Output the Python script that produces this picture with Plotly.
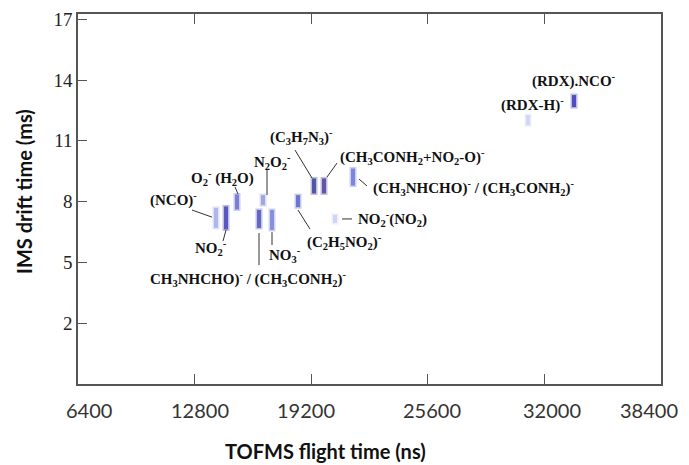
import plotly.graph_objects as go

# ---- data ----
x_ticks = [6400, 12800, 19200, 25600, 32000, 38400]
x_tick_labels = ["6400", "12800", "19200", "25600", "32000", "38400"]
y_ticks = [2, 5, 8, 11, 14, 17]

spot_x = [13975, 14524, 15128, 16555, 16335, 17049, 18476, 19354, 19903, 21495, 20507, 31100, 33625]
spot_y = [7.19, 7.19, 7.98, 8.07, 7.14, 7.09, 8.02, 8.77, 8.77, 9.21, 7.14, 12.02, 12.96]
spot_len = [20, 23, 15, 10, 18, 20, 12, 15, 15, 17, 8, 10, 12]
spot_color = ["#9aa4e6", "#2b2fb0", "#5560cc", "#8890dd", "#3a40b8", "#6a74d4", "#4a52c0",
              "#28288f", "#3a2a90", "#5a68d6", "#c4cbef", "#c8cdef", "#2020b0"]

label_text = [
    "(NCO)<sup>-</sup>",
    "O<sub>2</sub><sup>-</sup> (H<sub>2</sub>O)",
    "N<sub>2</sub>O<sub>2</sub><sup>-</sup>",
    "(C<sub>3</sub>H<sub>7</sub>N<sub>3</sub>)<sup>-</sup>",
    "(CH<sub>3</sub>CONH<sub>2</sub>+NO<sub>2</sub>-O)<sup>-</sup>",
    "(CH<sub>3</sub>NHCHO)<sup>-</sup> / (CH<sub>3</sub>CONH<sub>2</sub>)<sup>-</sup>",
    "NO<sub>2</sub><sup>-</sup>(NO<sub>2</sub>)",
    "(C<sub>2</sub>H<sub>5</sub>NO<sub>2</sub>)<sup>-</sup>",
    "NO<sub>2</sub><sup>-</sup>",
    "NO<sub>3</sub><sup>-</sup>",
    "CH<sub>3</sub>NHCHO)<sup>-</sup> / (CH<sub>3</sub>CONH<sub>2</sub>)<sup>-</sup>",
    "(RDX-H)<sup>-</sup>",
    "(RDX).NCO<sup>-</sup>",
]
label_x = [11615, 14304, 17049, 18640, 24733, 28136, 23635, 21001, 13700, 17762, 15731, 31320, 33625]
label_y = [8.12, 9.16, 9.95, 11.19, 10.20, 8.67, 7.14, 6.00, 5.70, 5.36, 4.17, 12.77, 14.0]

leader_x0 = [12657, 15018, 16774, 18311, 20617, 21824, 20891, 18476, 14524, 17049, 16335]
leader_y0 = [7.58, 8.72, 9.60, 10.54, 9.90, 9.11, 7.14, 7.58, 6.59, 6.49, 6.44]
leader_x1 = [13755, 15182, 16774, 19244, 20068, 22263, 21440, 19134, 14359, 17049, 16335]
leader_y1 = [7.23, 8.37, 8.32, 9.16, 9.21, 8.77, 7.14, 6.64, 6.05, 5.85, 4.86]

# horizontal offsets (px) of the printed tick labels relative to their ticks
x_label_shift = [11, 5, -5, 4, 8, -12]

fig = go.Figure()

# line-ns marker length is 1.4 x size
fig.add_trace(go.Scatter(
    x=spot_x, y=spot_y, mode="markers", hoverinfo="skip", showlegend=False,
    marker=dict(symbol="line-ns", size=[(s + 3) / 1.4 for s in spot_len],
                line=dict(width=7, color=spot_color), opacity=0.3),
))
fig.add_trace(go.Scatter(
    x=spot_x, y=spot_y, mode="markers", showlegend=False,
    marker=dict(symbol="line-ns", size=[s / 1.4 for s in spot_len],
                line=dict(width=4, color=spot_color)),
))

for t, lx, ly in zip(label_text, label_x, label_y):
    fig.add_annotation(x=lx, y=ly, xref="x", yref="y", text=t, showarrow=False,
                       font=dict(family="Liberation Serif", size=15, color="#111111", weight="bold"))

for x0, y0, x1, y1 in zip(leader_x0, leader_y0, leader_x1, leader_y1):
    fig.add_shape(type="line", xref="x", yref="y", x0=x0, y0=y0, x1=x1, y1=y1,
                  line=dict(color="#333333", width=1))

for v, t, s in zip(x_ticks, x_tick_labels, x_label_shift):
    fig.add_annotation(x=v, y=0, xref="x", yref="paper", text=t, showarrow=False,
                       xanchor="center", yanchor="top", xshift=s, yshift=-12,
                       font=dict(family="Lato", size=20, color="#333333"))

fig.add_annotation(xref="paper", yref="paper", x=0.4237, y=-0.181, text="TOFMS flight time (ns)",
                   showarrow=False, xanchor="center", yanchor="middle",
                   font=dict(family="Lato", size=20, color="#111111", weight="bold"))
fig.add_annotation(xref="paper", yref="paper", x=-0.0926, y=0.519, text="IMS drift time (ms)",
                   showarrow=False, xanchor="center", yanchor="middle", textangle=-90,
                   font=dict(family="Lato", size=20, color="#111111", weight="bold"))

fig.update_layout(
    width=681, height=457,
    margin=dict(l=70, r=28, t=6, b=81, autoexpand=False),
    paper_bgcolor="white", plot_bgcolor="white",
    xaxis=dict(range=[6400, 38400], tickvals=x_ticks, showticklabels=False,
               ticks="inside", ticklen=10, tickcolor="#555555", tickwidth=1.2,
               showline=True, linecolor="#555555", linewidth=1.5, mirror="ticks",
               showgrid=False, zeroline=False),
    yaxis=dict(range=[-1.01, 17.26], tickvals=y_ticks, ticktext=[str(v) for v in y_ticks],
               ticks="inside", ticklen=9, tickcolor="#555555", tickwidth=1.2,
               showline=True, linecolor="#555555", linewidth=1.5, mirror=True,
               showgrid=False, zeroline=False,
               tickfont=dict(family="Liberation Serif", size=19, color="#222222")),
)

fig.write_html("out.html")
